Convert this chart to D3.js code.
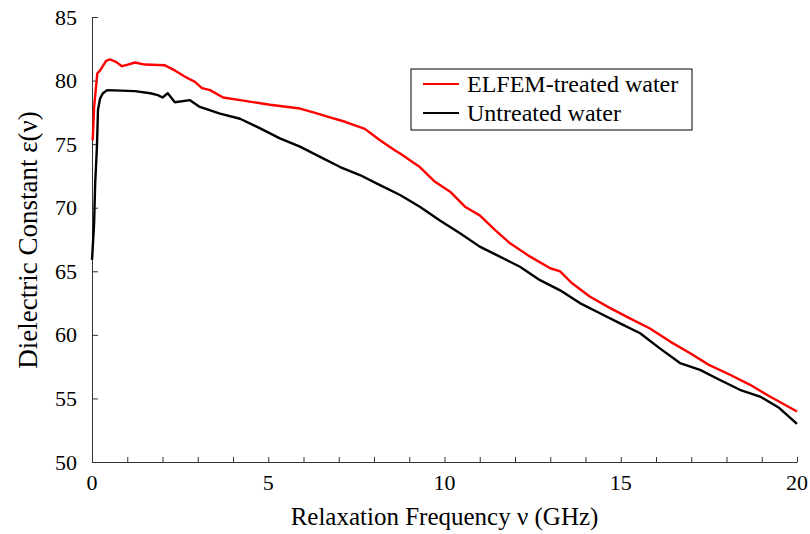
<!DOCTYPE html>
<html>
<head>
<meta charset="utf-8">
<script src="https://cdn.jsdelivr.net/npm/d3@7"></script>
<style>
  body { margin: 0; background: #fff; }
</style>
</head>
<body>
<div id="chart"></div>
<script>
// -------- Data --------
const treatedFreq = [0.02, 0.06, 0.15, 0.23, 0.4, 0.51, 0.68, 0.85, 1.02, 1.22, 1.5, 2.07, 2.35, 2.64, 2.92, 3.12,
  3.35, 3.72, 4.34, 5.05, 5.9, 6.33, 6.75, 7.18, 7.74, 8.17, 8.6, 8.74, 9.3, 9.73, 10.16, 10.58, 11.0, 11.43,
  11.86, 12.43, 13.0, 13.28, 13.6, 14.13, 14.7, 15.26, 15.83, 16.4, 16.97, 17.5, 18.1, 18.67, 19.23, 20.0];
const treatedEps = [75.3, 77.9, 80.56, 80.8, 81.55, 81.66, 81.47, 81.13, 81.26, 81.42, 81.26, 81.2, 80.8, 80.3, 79.9, 79.4,
  79.25, 78.67, 78.4, 78.1, 77.8, 77.46, 77.1, 76.76, 76.2, 75.3, 74.5, 74.27, 73.2, 72.04, 71.26, 70.08, 69.4, 68.25,
  67.2, 66.15, 65.24, 65.0, 64.1, 63.0, 62.1, 61.3, 60.5, 59.47, 58.56, 57.64, 56.86, 56.07, 55.15, 53.97];

const untreatedFreq = [0.0, 0.06, 0.09, 0.14, 0.17, 0.23, 0.31, 0.43, 1.22, 1.65, 1.87, 2.0, 2.15, 2.35, 2.78, 3.06,
  3.63, 4.2, 4.77, 5.33, 5.9, 6.47, 7.04, 7.6, 8.17, 8.74, 9.3, 9.87, 10.44, 11.0, 11.57, 12.14, 12.71, 13.28,
  13.84, 14.41, 14.98, 15.55, 16.1, 16.68, 17.25, 17.8, 18.38, 18.95, 19.5, 20.0];
const untreatedEps = [65.9, 68.8, 71.9, 74.8, 77.7, 78.6, 79.0, 79.25, 79.17, 79.0, 78.85, 78.67, 79.0, 78.3, 78.46, 77.93,
  77.4, 77.0, 76.24, 75.45, 74.8, 74.0, 73.2, 72.57, 71.78, 71.0, 70.08, 69.0, 68.0, 66.94, 66.15, 65.36, 64.3, 63.5,
  62.5, 61.7, 60.9, 60.13, 58.96, 57.78, 57.25, 56.47, 55.68, 55.15, 54.24, 53.0];

const seriesNames = ['ELFEM-treated water', 'Untreated water'];
const seriesColors = ['#ff0000', '#000000'];
const xTickLabels = [0, 5, 10, 15, 20];
const yTickLabels = [50, 55, 60, 65, 70, 75, 80, 85];

// -------- Dimensions --------
const width = 810, height = 534;
const m = { left: 92, right: 13, top: 17, bottom: 72 };
const serif = '"Liberation Serif"';

const svg = d3.select('#chart').append('svg')
  .attr('width', width)
  .attr('height', height);

const x = d3.scaleLinear().domain([0, 20]).range([m.left, width - m.right]);
const y = d3.scaleLinear().domain([50, 85]).range([height - m.bottom, m.top]);

const axisColor = '#333';

// -------- Axes --------
const xAxis = svg.append('g')
  .attr('transform', `translate(0,${y(50)})`)
  .call(d3.axisBottom(x).tickValues(d3.range(0, 21, 1)).tickSize(-5).tickSizeOuter(0).tickFormat(''));
xAxis.selectAll('line, path').attr('stroke', axisColor);

svg.append('g').selectAll('text')
  .data(xTickLabels)
  .join('text')
    .attr('x', d => x(d))
    .attr('y', y(50) + 28)
    .attr('text-anchor', 'middle')
    .style('font-family', serif)
    .style('font-size', '22px')
    .text(d => d);

const yAxis = svg.append('g')
  .attr('transform', `translate(${x(0)},0)`)
  .call(d3.axisLeft(y).tickValues(yTickLabels).tickSize(-6).tickSizeOuter(0).tickFormat(''));
yAxis.selectAll('line, path').attr('stroke', axisColor);

svg.append('g').selectAll('text')
  .data(yTickLabels)
  .join('text')
    .attr('x', x(0) - 15)
    .attr('y', d => y(d) + 7.5)
    .attr('text-anchor', 'end')
    .style('font-family', serif)
    .style('font-size', '22px')
    .text(d => d);

// axis titles
svg.append('text')
  .attr('x', (x(0) + x(20)) / 2)
  .attr('y', 525)
  .attr('text-anchor', 'middle')
  .style('font-family', serif)
  .style('font-size', '25px')
  .text('Relaxation Frequency ν (GHz)');

svg.append('text')
  .attr('transform', `translate(37,240) rotate(-90)`)
  .attr('text-anchor', 'middle')
  .style('font-family', serif)
  .style('font-size', '27px')
  .text('Dielectric Constant ε(ν)');

// -------- Lines --------
const line = d3.line().x(d => x(d[0])).y(d => y(d[1]));
const series = [
  d3.zip(treatedFreq, treatedEps),
  d3.zip(untreatedFreq, untreatedEps)
];

svg.append('g').selectAll('path')
  .data(series)
  .join('path')
    .attr('d', line)
    .attr('fill', 'none')
    .attr('stroke', (d, i) => seriesColors[i])
    .attr('stroke-width', 2.4)
    .attr('stroke-linejoin', 'round');

// -------- Legend --------
const legend = svg.append('g').attr('transform', 'translate(411,69)');
legend.append('rect')
  .attr('width', 281).attr('height', 61)
  .attr('fill', '#fff').attr('stroke', '#000').attr('stroke-width', 1);

const items = legend.selectAll('g.item')
  .data(seriesNames)
  .join('g')
    .attr('class', 'item')
    .attr('transform', (d, i) => `translate(0,${15 + i * 29})`);
items.append('line')
  .attr('x1', 12).attr('x2', 48)
  .attr('stroke', (d, i) => seriesColors[i])
  .attr('stroke-width', 2);
items.append('text')
  .attr('x', 56).attr('y', 8)
  .style('font-family', serif)
  .style('font-size', '24px')
  .text(d => d);
</script>
</body>
</html>
